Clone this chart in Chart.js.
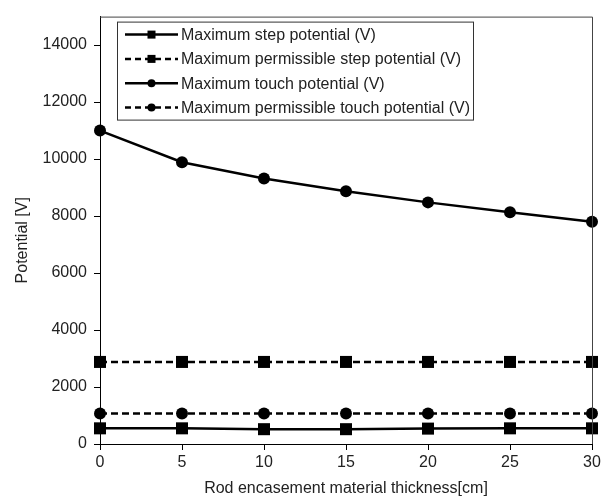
<!DOCTYPE html>
<html>
<head>
<meta charset="utf-8">
<script src="https://cdn.jsdelivr.net/npm/chart.js@4.4.0/dist/chart.umd.min.js"></script>
<style>
  html, body { margin: 0; padding: 0; background: #fff; }
</style>
</head>
<body>
<canvas id="chart" width="609" height="502"></canvas>
<script>
// Datos
const thickness = [0, 5, 10, 15, 20, 25, 30];
const stepPotential = [550, 550, 520, 520, 540, 550, 550];
const permStepPotential = [2880, 2880, 2880, 2880, 2880, 2880, 2880];
const touchPotential = [11000, 9890, 9320, 8870, 8480, 8130, 7800];
const permTouchPotential = [1070, 1070, 1070, 1070, 1070, 1070, 1070];
const seriesNames = [
  'Maximum step potential (V)',
  'Maximum permissible step potential (V)',
  'Maximum touch potential (V)',
  'Maximum permissible touch potential (V)'
];
const yTickValues = [0, 2000, 4000, 6000, 8000, 10000, 12000, 14000];
const xTitle = 'Rod encasement material thickness[cm]';
const yTitle = 'Potential [V]';

const FONT = "'Liberation Sans', Arial, sans-serif";
Chart.defaults.font.family = FONT;
Chart.defaults.font.size = 16;
Chart.defaults.color = '#222';

function toPoints(values) {
  return thickness.map((x, i) => ({ x: x, y: values[i] }));
}

function makeDataset(label, values, pointStyle, dashed, radius) {
  return {
    label: label,
    data: toPoints(values),
    borderColor: '#000',
    backgroundColor: '#000',
    borderWidth: 2.5,
    borderDash: dashed ? [7, 4] : [],
    pointStyle: pointStyle,
    pointRadius: radius,
    pointBorderWidth: 0,
    pointBackgroundColor: '#000',
    tension: 0,
    clip: false
  };
}

// Marco superior/derecho, título del eje Y y leyenda dentro del área
const framePlugin = {
  id: 'frameLegend',
  afterDraw(chart) {
    const ctx = chart.ctx;
    const a = chart.chartArea;
    ctx.save();
    ctx.strokeStyle = '#444';
    ctx.lineWidth = 1;
    ctx.beginPath();
    ctx.moveTo(a.left, a.top + 0.5);
    ctx.lineTo(a.right + 0.5, a.top + 0.5);
    ctx.lineTo(a.right + 0.5, a.bottom);
    ctx.stroke();

    // título eje Y (un poco por debajo del centro, como en la figura)
    ctx.save();
    ctx.translate(23, (a.top + a.bottom) / 2 + 10);
    ctx.rotate(-Math.PI / 2);
    ctx.font = '16px ' + FONT;
    ctx.fillStyle = '#222';
    ctx.textAlign = 'center';
    ctx.textBaseline = 'middle';
    ctx.fillText(yTitle, 0, 0);
    ctx.restore();

    // leyenda
    const bx = a.left + 17, by = a.top + 5, bw = 356, bh = 98;
    ctx.fillStyle = '#fff';
    ctx.fillRect(bx, by, bw, bh);
    ctx.strokeStyle = '#333';
    ctx.strokeRect(bx + 0.5, by + 0.5, bw, bh);
    ctx.font = '16px ' + FONT;
    ctx.textBaseline = 'middle';
    chart.data.datasets.forEach((ds, i) => {
      const y = by + 13 + i * 24.3;
      const x0 = bx + 8, x1 = bx + 61;
      ctx.strokeStyle = '#000';
      ctx.lineWidth = 2.5;
      ctx.setLineDash(ds.borderDash.length ? [6, 4] : []);
      ctx.beginPath();
      ctx.moveTo(x0, y);
      ctx.lineTo(x1, y);
      ctx.stroke();
      ctx.setLineDash([]);
      ctx.fillStyle = '#000';
      const cx = (x0 + x1) / 2;
      if (ds.pointStyle === 'rect') {
        ctx.fillRect(cx - 4, y - 4, 8, 8);
      } else {
        ctx.beginPath();
        ctx.arc(cx, y, 4, 0, Math.PI * 2);
        ctx.fill();
      }
      ctx.fillStyle = '#222';
      ctx.fillText(ds.label, x1 + 3, y + 1);
    });
    ctx.restore();
  }
};

new Chart(document.getElementById('chart'), {
  type: 'line',
  data: {
    datasets: [
      makeDataset(seriesNames[0], stepPotential, 'rect', false, 8.5),
      makeDataset(seriesNames[1], permStepPotential, 'rect', true, 8.5),
      makeDataset(seriesNames[2], touchPotential, 'circle', false, 6),
      makeDataset(seriesNames[3], permTouchPotential, 'circle', true, 6)
    ]
  },
  options: {
    responsive: false,
    animation: false,
    layout: { padding: { top: 12, right: 17, left: 0, bottom: 4 } },
    plugins: {
      legend: { display: false },
      tooltip: { enabled: false }
    },
    scales: {
      x: {
        type: 'linear',
        min: 0,
        max: 30,
        ticks: { stepSize: 5, padding: 3, color: '#222' },
        grid: { drawOnChartArea: false, tickLength: 6, color: '#000' },
        border: { color: '#000', width: 1 },
        title: { display: true, text: xTitle, color: '#222', padding: { top: 0, bottom: 0 } },
        afterFit(scale) { scale.height = 54; }
      },
      y: {
        min: 0,
        max: 15000,
        afterBuildTicks(scale) {
          scale.ticks = yTickValues.map(v => ({ value: v }));
        },
        ticks: { padding: 7, color: '#222', callback: v => String(v) },
        grid: { drawOnChartArea: false, tickLength: 6, color: '#000' },
        border: { color: '#000', width: 1 },
        title: { display: false },
        afterFit(scale) { scale.width = 100; }
      }
    }
  },
  plugins: [framePlugin]
});
</script>
</body>
</html>
